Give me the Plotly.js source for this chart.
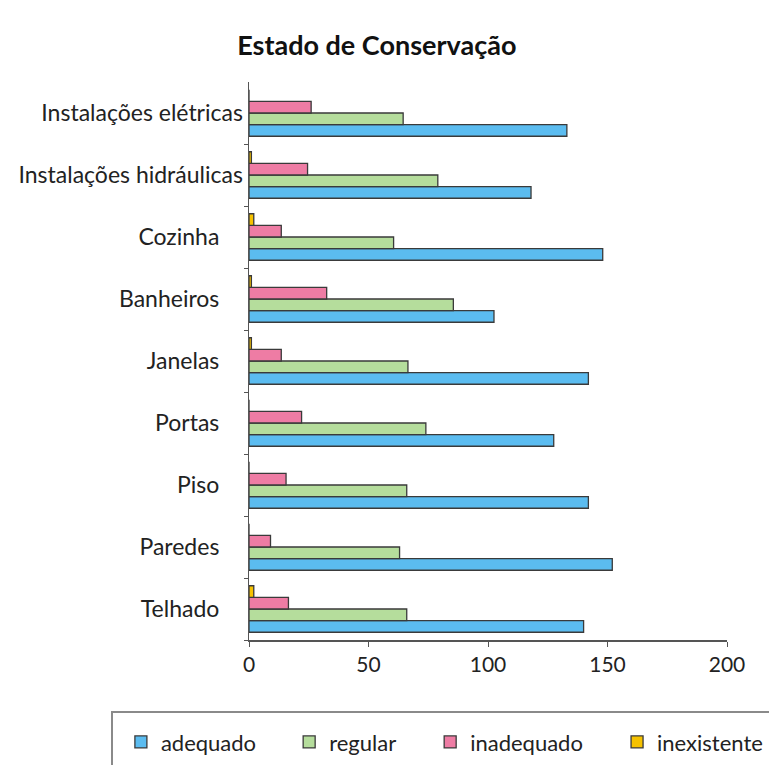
<!DOCTYPE html>
<html>
<head>
<meta charset="utf-8">
<script src="https://cdn.plot.ly/plotly-3.0.1.min.js"></script>
<style>html,body{margin:0;padding:0;background:#fff;}#chart{width:769px;height:765px;}</style>
</head>
<body>
<div id="chart"></div>
<script>
const categories = ["Instalações elétricas","Instalações hidráulicas","Cozinha","Banheiros","Janelas","Portas","Piso","Paredes","Telhado"];
const adequado    = [133, 118, 148, 102.5, 142, 127.5, 142, 152, 140];
const regular     = [64.5, 79, 60.5, 85.5, 66.5, 74, 66, 63, 66];
const inadequado  = [26, 24.5, 13.5, 32.5, 13.5, 22, 15.5, 9, 16.5];
const inexistente = [0, 1, 2, 1, 1, 0, 0, 0, 2];
const seriesNames = ["adequado","regular","inadequado","inexistente"];
const xTicks = [0, 50, 100, 150, 200];

const colors = ["#5bbcf0","#b5dd9c","#ee7ca4","#f6c200"];
const values = [adequado, regular, inadequado, inexistente];
const catsRev = categories.slice().reverse();
const legendIds = ["legend","legend2","legend3","legend4"];
const legendX = [-0.268, 0.084, 0.379, 0.770];

const traces = values.map((v, i) => ({
  type: "bar",
  orientation: "h",
  name: seriesNames[i],
  legend: legendIds[i],
  y: categories,
  x: v,
  marker: {color: colors[i], line: {color: "#3a3a3a", width: 1.3}},
  hoverinfo: "x+y+name"
}));

const pad = s => s.length > 12 ? s : s + "\u00a0\u00a0\u00a0\u00a0";

const layout = {
  width: 769, height: 765,
  margin: {l: 249, r: 42, t: 82, b: 125, autoexpand: false},
  paper_bgcolor: "#ffffff",
  plot_bgcolor: "#ffffff",
  font: {family: "Lato, 'Open Sans', sans-serif", color: "#222", size: 22},
  title: {text: "<b>Estado de Conservação</b>", x: 0.49, xanchor: "center", y: 0.94, yanchor: "middle",
          font: {family: "Lato, sans-serif", size: 27, color: "#111"}},
  barmode: "group",
  bargap: 0.25,
  bargroupgap: 0,
  showlegend: true,
  shapes: [{type: "rect", xref: "paper", yref: "paper", x0: -0.2866, x1: 1.12, y0: -0.129, y1: -0.26,
            line: {color: "#8a8a8a", width: 2}, fillcolor: "rgba(0,0,0,0)", layer: "above"}],
  xaxis: {range: [0, 200], tickvals: xTicks, ticktext: xTicks.map(String),
          showgrid: false, zeroline: false, showline: true, linecolor: "#555", linewidth: 1.5,
          ticks: "outside", ticklen: 5, tickcolor: "#555", tickfont: {size: 21, color: "#222"}},
  yaxis: {type: "category", categoryorder: "array", categoryarray: catsRev,
          tickvals: categories, ticktext: categories.map(pad),
          showgrid: false, zeroline: false, showline: true, linecolor: "#555", linewidth: 1.5,
          ticks: "outside", ticklen: 4, tickcolor: "#555", tickson: "boundaries",
          tickfont: {size: 23, color: "#222"}, ticklabelstandoff: 0}
};
legendIds.forEach((id, i) => {
  layout[id] = {orientation: "h", x: legendX[i], xanchor: "left", y: -0.183, yanchor: "middle",
                borderwidth: 0, bgcolor: "rgba(0,0,0,0)", font: {size: 22, color: "#222"}};
});

Plotly.newPlot("chart", traces, layout, {displayModeBar: false, staticPlot: true});
</script>
</body>
</html>
